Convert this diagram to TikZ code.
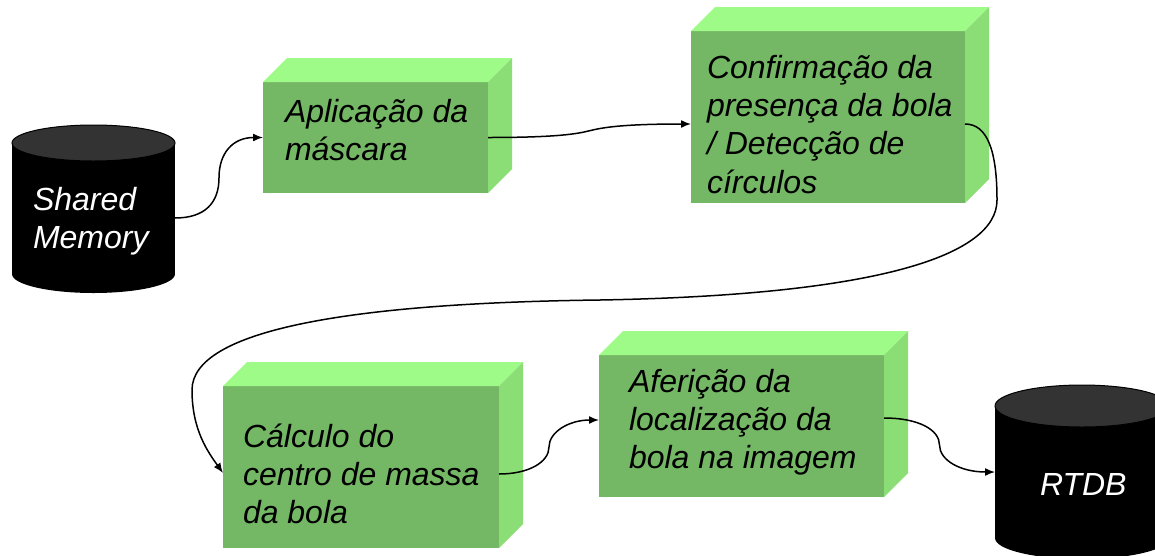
\documentclass[tikz,border=0pt]{standalone}
\usepackage{fontspec}
\setmainfont{Liberation Sans}
\usetikzlibrary{arrows.meta,calc}
\definecolor{frontc}{RGB}{116,184,101}
\definecolor{topc}{RGB}{159,251,135}
\definecolor{sidec}{RGB}{139,222,117}
\definecolor{capc}{RGB}{51,51,51}
\newcommand\mltext[1]{\vtop{\baselineskip=38.4pt\lineskiplimit=-100pt\relax #1}}
\newcommand\cubefaces[1]{%
  \fill[topc] (#1.north west) -- ++(24,-24) -- ($(#1.north east)+(24,-24)$) -- (#1.north east) -- cycle;
  \fill[sidec] (#1.north east) -- ++(24,-24) -- ($(#1.south east)+(24,-24)$) -- (#1.south east) -- cycle;}
\begin{document}
\begin{tikzpicture}[x=1pt,y=-1pt,
  front/.style={fill=frontc, draw=none, inner sep=0pt, outer sep=0pt, anchor=north west},
  lbl/.style={anchor=base west, inner sep=0pt, outer sep=0pt, font=\fontsize{32}{38.4}\selectfont\itshape},
  conn/.style={line width=1.5pt, -{Latex[length=10pt,width=8pt]}},
  cylbody/.style={inner sep=0pt, outer sep=0pt}]
\useasboundingbox (0,0) rectangle (1155,555);
\fill[white] (0,0) rectangle (1155,555);

% cylinders
\node[cylbody, minimum width=163pt, minimum height=131pt] (sm) at (93.5,208.5) {};
\fill[black] (sm.north west) rectangle (sm.south east);
\fill[black] (sm.south) ellipse [x radius=81.5, y radius=19];
\filldraw[fill=capc, draw=black, line width=1pt] (sm.north) ellipse [x radius=81.5, y radius=18];
\node[lbl, text=white] (smt) at (33,210) {\mltext{\hbox{Shared}\hbox{Memory}}};

\node[cylbody, minimum width=174pt, minimum height=132pt] (rtdb) at (1082,472) {};
\fill[black] (rtdb.north west) rectangle (rtdb.south east);
\fill[black] (rtdb.south) ellipse [x radius=87, y radius=21];
\filldraw[fill=capc, draw=black, line width=1pt] (rtdb.north) ellipse [x radius=87, y radius=21];
\node[lbl, text=white] (rtdbt) at (1040,495) {RTDB};

% boxes
\node[front, minimum width=225pt, minimum height=111pt] (b1) at (263,82) {};
\cubefaces{b1}
\node[front, minimum width=274pt, minimum height=172pt] (b2) at (691,31) {};
\cubefaces{b2}
\node[front, minimum width=276pt, minimum height=162pt] (b3) at (223,386) {};
\cubefaces{b3}
\node[front, minimum width=285pt, minimum height=142pt] (b4) at (599,355) {};
\cubefaces{b4}

\node[lbl] (t1) at (285,122) {\mltext{\hbox{Aplicação da}\hbox{máscara}}};
\node[lbl] (t2) at (707,78) {\mltext{\hbox{Confirmação da}\hbox{presença da bola}\hbox{/ Detecção de}\hbox{círculos}}};
\node[lbl] (t3) at (243,447) {\mltext{\hbox{Cálculo do}\hbox{centro de massa}\hbox{da bola}}};
\node[lbl] (t4) at (629,392) {\mltext{\hbox{Aferição da}\hbox{localização da}\hbox{bola na imagem}}};

% connectors
\draw[conn] ([yshift=-9.5pt]sm.east) .. controls +(30,0) and +(0,25) .. ($([yshift=-9.5pt]sm.east)!0.5!(b1.west)$) .. controls +(0,-25) and +(-30,0) .. (b1.west);
\draw[conn] (b1.east) .. controls +(70,0) and +(-12,3) .. ($(b1.east)!0.5!([yshift=-7pt]b2.west)$) .. controls +(12,-3) and +(-70,0) .. ([yshift=-7pt]b2.west);
\draw[conn] ([yshift=-7pt]b2.east) .. controls +(22,0) and (997,150) .. (997,200) .. controls (997,255) and (880,295) .. (600,300) .. controls (350,303) and (192,330) .. (192,390) .. controls (192,430) and (208,452) .. ([yshift=-6pt]b3.west);
\draw[conn] ([yshift=-7pt]b3.east) .. controls +(30,0) and +(0,15) .. ($([yshift=-7pt]b3.east)!0.5!([yshift=6pt]b4.west)$) .. controls +(0,-15) and +(-30,0) .. ([yshift=6pt]b4.west);
\draw[conn] ([yshift=8pt]b4.east) .. controls +(35,0) and +(0,-15) .. ($([yshift=8pt]b4.east)!0.5!(rtdb.west)$) .. controls +(0,15) and +(-35,0) .. (rtdb.west);
\end{tikzpicture}
\end{document}
